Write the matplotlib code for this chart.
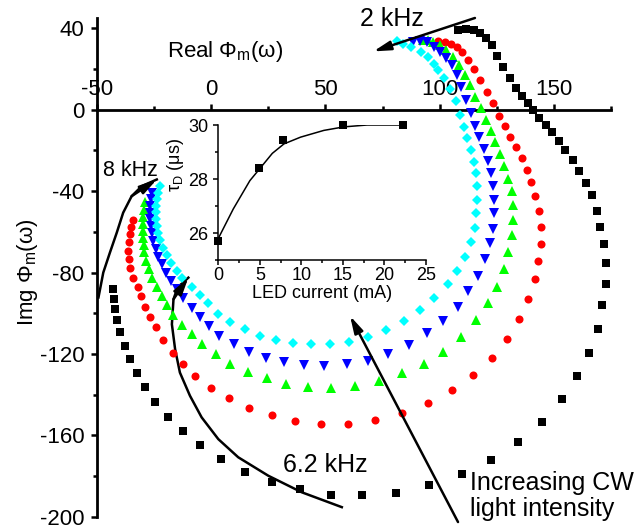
import matplotlib.pyplot as plt
from matplotlib.ticker import MultipleLocator

plt.rcParams['font.family'] = ['Liberation Sans', 'DejaVu Sans']
plt.rcParams['mathtext.fontset'] = 'custom'
plt.rcParams['mathtext.rm'] = 'Liberation Sans'
plt.rcParams['axes.unicode_minus'] = False

# Nyquist data: real and imaginary part of Phi_m for five CW bias levels
black_re = [-42.7, -42.3, -41.8, -41.2, -39.9, -37.6, -35.4, -32.4, -28.9, -24.5,
            -18.7, -12.2, -4.7, 4.5, 15.0, 26.5, 39.1, 52.3, 66.0, 80.9,
            95.5, 109.6, 122.3, 134.1, 144.9, 153.4, 160.2, 165.4, 169.0, 171.1,
            172.6, 172.6, 172.0, 170.2, 168.7, 166.5, 163.9, 161.1, 158.2, 154.9,
            152.0, 149.2, 146.4, 143.4, 140.7, 138.4, 135.9, 133.4, 130.8, 127.8,
            125.2, 122.8, 120.3, 117.6, 115.0, 111.7, 108.1]
black_im = [-87.9, -92.9, -98.0, -103.4, -109.3, -115.9, -122.3, -129.4, -136.3, -143.5,
            -150.8, -157.7, -164.7, -171.6, -177.7, -182.7, -186.4, -189.0, -189.4, -188.1,
            -184.3, -179.1, -172.1, -163.4, -153.3, -142.2, -130.7, -119.5, -107.6, -96.1,
            -85.8, -75.1, -65.8, -57.6, -49.8, -42.0, -35.9, -30.2, -24.5, -19.6,
            -15.2, -11.1, -7.6, -4.1, -0.1, 3.3, 6.7, 10.8, 15.5, 20.7,
            26.1, 31.5, 35.4, 37.4, 39.1, 39.6, 39.2]

red_re = [-34.2, -35.0, -35.6, -36.0, -36.2, -35.9, -35.3, -34.1, -32.1, -30.7,
          -29.0, -26.7, -24.2, -21.2, -16.8, -12.1, -6.8, -0.1, 7.9, 16.7,
          26.5, 36.8, 48.0, 60.0, 71.8, 83.5, 94.8, 105.4, 114.6, 123.0,
          129.5, 134.8, 138.8, 141.8, 143.1, 144.2, 144.2, 143.2, 141.7, 140.1,
          138.1, 135.9, 133.4, 130.8, 128.6, 126.0, 123.3, 120.6, 117.6, 115.1,
          112.2, 109.6, 107.4, 105.0, 102.3, 99.4]
red_im = [-54.2, -57.6, -61.3, -65.2, -69.4, -73.5, -77.9, -82.6, -87.3, -91.7,
          -96.7, -101.7, -106.6, -113.2, -119.4, -125.0, -131.0, -136.5, -141.4, -146.3,
          -149.9, -152.8, -154.2, -154.3, -152.5, -149.2, -144.1, -137.9, -130.5, -122.2,
          -112.7, -102.6, -92.8, -83.3, -74.3, -65.9, -57.6, -49.6, -42.2, -35.6,
          -29.4, -23.7, -18.2, -13.2, -8.1, -3.3, 3.4, 8.7, 14.7, 20.0,
          24.5, 28.2, 30.6, 32.4, 33.2, 33.5]

green_re = [-28.9, -29.3, -29.6, -29.8, -29.9, -29.7, -29.5, -29.1, -28.4, -27.3,
            -25.6, -23.4, -21.4, -19.2, -16.4, -12.5, -8.4, -3.8, 2.1, 8.1,
            16.0, 24.3, 32.8, 42.6, 52.4, 63.0, 73.6, 83.7, 93.1, 101.6,
            109.5, 115.9, 121.0, 125.2, 128.1, 130.0, 131.5, 131.9, 131.9, 131.5,
            130.0, 128.3, 126.4, 124.2, 122.3, 120.3, 117.9, 115.4, 113.3, 111.1,
            108.6, 105.7, 102.8, 100.1, 97.2, 95.0, 92.8]
green_im = [-45.6, -49.3, -52.7, -56.1, -59.6, -63.0, -66.4, -70.1, -74.3, -78.4,
            -82.6, -86.9, -91.4, -96.1, -100.7, -105.6, -110.4, -115.3, -120.2, -124.7,
            -128.8, -131.9, -134.5, -136.0, -136.8, -135.6, -133.2, -129.5, -124.7, -119.0,
            -111.4, -103.3, -95.1, -86.9, -78.4, -70.0, -61.8, -54.2, -46.9, -40.0,
            -34.0, -27.8, -21.6, -16.0, -10.6, -4.9, 0.8, 6.2, 12.3, 17.2,
            22.1, 25.8, 29.1, 31.9, 33.0, 34.0, 34.3]

blue_re = [-25.9, -26.2, -26.5, -26.7, -26.7, -26.4, -25.9, -25.2, -24.2, -23.0,
           -21.6, -19.7, -17.5, -15.0, -12.2, -8.4, -4.6, -0.7, 3.7, 9.9,
           16.6, 24.1, 32.1, 40.7, 49.4, 59.3, 68.8, 77.5, 86.7, 94.6,
           101.6, 107.9, 112.5, 116.6, 119.8, 122.0, 123.4, 123.9, 123.9, 123.4,
           122.4, 121.1, 119.3, 117.2, 115.4, 113.5, 111.6, 109.3, 107.4, 105.3,
           102.8, 100.1, 97.5, 94.5, 91.4, 88.3]
blue_im = [-40.8, -44.1, -47.4, -50.6, -53.9, -57.2, -60.8, -64.6, -68.3, -72.2,
           -76.0, -80.0, -84.2, -88.2, -92.6, -97.2, -101.7, -106.4, -111.3, -115.2,
           -118.8, -122.1, -123.9, -125.2, -125.8, -124.7, -123.4, -120.1, -115.7, -109.9,
           -103.8, -96.7, -89.1, -81.7, -73.5, -65.3, -58.5, -51.0, -44.6, -37.6,
           -31.2, -25.0, -19.1, -13.2, -8.1, -1.6, 4.9, 11.3, 16.9, 21.8,
           25.2, 28.4, 30.9, 33.1, 33.6, 33.3]

cyan_re = [-22.3, -23.0, -23.6, -24.1, -24.1, -24.1, -23.7, -23.3, -22.3, -20.9,
           -19.4, -17.5, -15.0, -12.6, -8.4, -4.8, -1.1, 3.2, 8.3, 14.9,
           21.4, 28.4, 36.0, 43.7, 52.0, 60.5, 68.8, 76.7, 84.3, 91.4,
           97.7, 103.6, 107.4, 111.1, 113.6, 115.3, 116.0, 116.5, 116.5, 116.0,
           115.1, 113.6, 111.9, 110.5, 108.7, 107.1, 104.5, 101.8, 99.4, 97.3,
           94.7, 91.6, 87.4, 84.1, 81.2]
cyan_im = [-37.6, -40.8, -43.8, -47.1, -50.3, -53.6, -56.9, -60.4, -64.1, -67.8,
           -71.6, -75.5, -79.3, -82.8, -87.3, -91.2, -95.1, -100.2, -104.2, -107.8,
           -111.0, -113.2, -114.7, -115.2, -115.2, -113.9, -111.7, -108.1, -103.7, -98.2,
           -92.3, -85.8, -79.4, -72.2, -65.0, -58.0, -51.0, -44.5, -37.6, -31.2,
           -25.6, -19.6, -13.8, -8.6, -2.8, 4.4, 10.3, 15.3, 19.5, 22.5,
           25.7, 28.4, 30.6, 32.4, 33.5]

# inset: decay time vs LED current
led_current = [0, 4.9, 7.8, 15.0, 22.2]
tau_d = [25.7, 28.4, 29.45, 30.0, 30.0]
fit_current = [0, 1.8, 3.8, 4.9, 6.5, 7.9, 9.9, 12.7, 15.1, 17.9, 22.2]
fit_tau = [25.8, 26.89, 27.94, 28.35, 28.95, 29.3, 29.55, 29.8, 29.93, 30.0, 30.0]

# guide curves for the frequency arrows
arc_8k_x = [-49.2, -47.1, -44.2, -41.2, -38.4, -34.7, -30.3, -23.7]
arc_8k_y = [-92.2, -80.0, -70.2, -60.4, -50.6, -42.5, -37.6, -34.3]
arc_62k_x = [57.2, 39.7, 25.1, 11.9, 3.2, -4.1, -9.2, -13.6, -15.7, -17.1, -16.4, -14.6, -9.9]
arc_62k_y = [-195.2, -187.9, -179.8, -170.7, -161.8, -151.1, -140.5, -129.1, -117.6, -105.4,
             -93.1, -87.3, -82.5]

fig = plt.figure(figsize=(6.35, 5.29), dpi=100)
ax = fig.add_axes([0.1522, 0.0228, 0.8104, 0.9432])

series = [
    (black_re, black_im, 's', 'black', 5.8),
    (red_re, red_im, 'o', 'red', 5.8),
    (green_re, green_im, '^', '#00ff00', 7.6),
    (blue_re, blue_im, 'v', 'blue', 7.6),
    (cyan_re, cyan_im, 'D', 'cyan', 5.4),
]
for re_, im_, mk, col, ms in series:
    ax.plot(re_, im_, ls='none', marker=mk, color=col, ms=ms, mew=0,
            zorder=3, clip_on=False)

ax.set_xlim(-50, 175)
ax.set_ylim(-200, 45)
ax.patch.set_visible(False)
ax.spines['right'].set_visible(False)
ax.spines['bottom'].set_visible(False)
ax.spines['top'].set_position(('data', 0))
for s in ('left', 'top'):
    ax.spines[s].set_linewidth(2)
ax.xaxis.set_ticks_position('top')
ax.xaxis.set_major_locator(MultipleLocator(50))
ax.xaxis.set_minor_locator(MultipleLocator(25))
ax.yaxis.set_major_locator(MultipleLocator(40))
ax.yaxis.set_minor_locator(MultipleLocator(20))
ax.tick_params(which='both', direction='out', width=1.8)
ax.tick_params(which='major', length=4, labelsize=16)
ax.tick_params(which='minor', length=3)
ax.tick_params(axis='x', which='major', pad=3)
ax.tick_params(axis='y', which='major', pad=5)

ax.text(-19.2, 26.0, 'Real Φ$_\\mathrm{m}$(ω)', fontsize=16, ha='left', va='baseline')
ax.text(-0.135, 0.49, 'Img Φ$_\\mathrm{m}$(ω)', fontsize=16, rotation=90,
        ha='center', va='center', transform=ax.transAxes)

arrow = dict(arrowstyle='-|>,head_length=0.6,head_width=0.16', color='black',
             lw=1.8, mutation_scale=17, shrinkA=0, shrinkB=0)

# 2 kHz
ax.annotate('', xy=(71.0, 28.6), xytext=(115.4, 45.0), arrowprops=arrow,
            annotation_clip=False)
ax.text(79.2, 44.6, '2 kHz', fontsize=18, ha='center', va='center')

# 8 kHz
ax.plot(arc_8k_x, arc_8k_y, color='black', lw=1.8, clip_on=False)
ax.annotate('', xy=(arc_8k_x[-1], arc_8k_y[-1]), xytext=(arc_8k_x[-3], arc_8k_y[-3]),
            arrowprops=arrow, annotation_clip=False)
ax.text(-35.4, -29.7, '8 kHz', fontsize=15.5, ha='center', va='center')

# 6.2 kHz
ax.plot(arc_62k_x, arc_62k_y, color='black', lw=1.8, clip_on=False)
ax.annotate('', xy=(arc_62k_x[-1], arc_62k_y[-1]), xytext=(arc_62k_x[-3], arc_62k_y[-3]),
            arrowprops=arrow, annotation_clip=False)
ax.text(49.9, -174.3, '6.2 kHz', fontsize=18, ha='center', va='center')

# increasing CW light
ax.annotate('', xy=(60.8, -101.3), xytext=(108.0, -202.5), arrowprops=arrow,
            annotation_clip=False)
ax.text(113.3, -189.7, 'Increasing CW\nlight intensity', fontsize=18,
        ha='left', va='center', linespacing=1.1)

# inset
ax_in = fig.add_axes([0.3438, 0.5085, 0.3271, 0.2552])
ax_in.plot(fit_current, fit_tau, color='black', lw=1.1)
ax_in.plot(led_current, tau_d, 's', color='black', ms=6.3, mew=0, clip_on=False, zorder=3)
ax_in.set_xlim(0, 25)
ax_in.set_ylim(25, 30)
ax_in.spines['right'].set_visible(False)
ax_in.spines['top'].set_visible(False)
for s in ('left', 'bottom'):
    ax_in.spines[s].set_linewidth(1.1)
ax_in.xaxis.set_major_locator(MultipleLocator(5))
ax_in.xaxis.set_minor_locator(MultipleLocator(2.5))
ax_in.yaxis.set_major_locator(MultipleLocator(2))
ax_in.yaxis.set_minor_locator(MultipleLocator(1))
ax_in.tick_params(which='both', direction='out', width=1.1)
ax_in.tick_params(which='major', length=3.6, labelsize=13)
ax_in.tick_params(which='minor', length=2.2)
ax_in.tick_params(axis='x', which='major', pad=1.5)
ax_in.tick_params(axis='y', which='major', pad=3.5)
ax_in.set_xlabel('LED current (mA)', fontsize=13, labelpad=1)
ax_in.text(-0.206, 0.704, 'τ$_\\mathrm{D}$ (μs)', fontsize=13, rotation=90,
           ha='center', va='center', transform=ax_in.transAxes)

fig.savefig('out.png', dpi=100)
